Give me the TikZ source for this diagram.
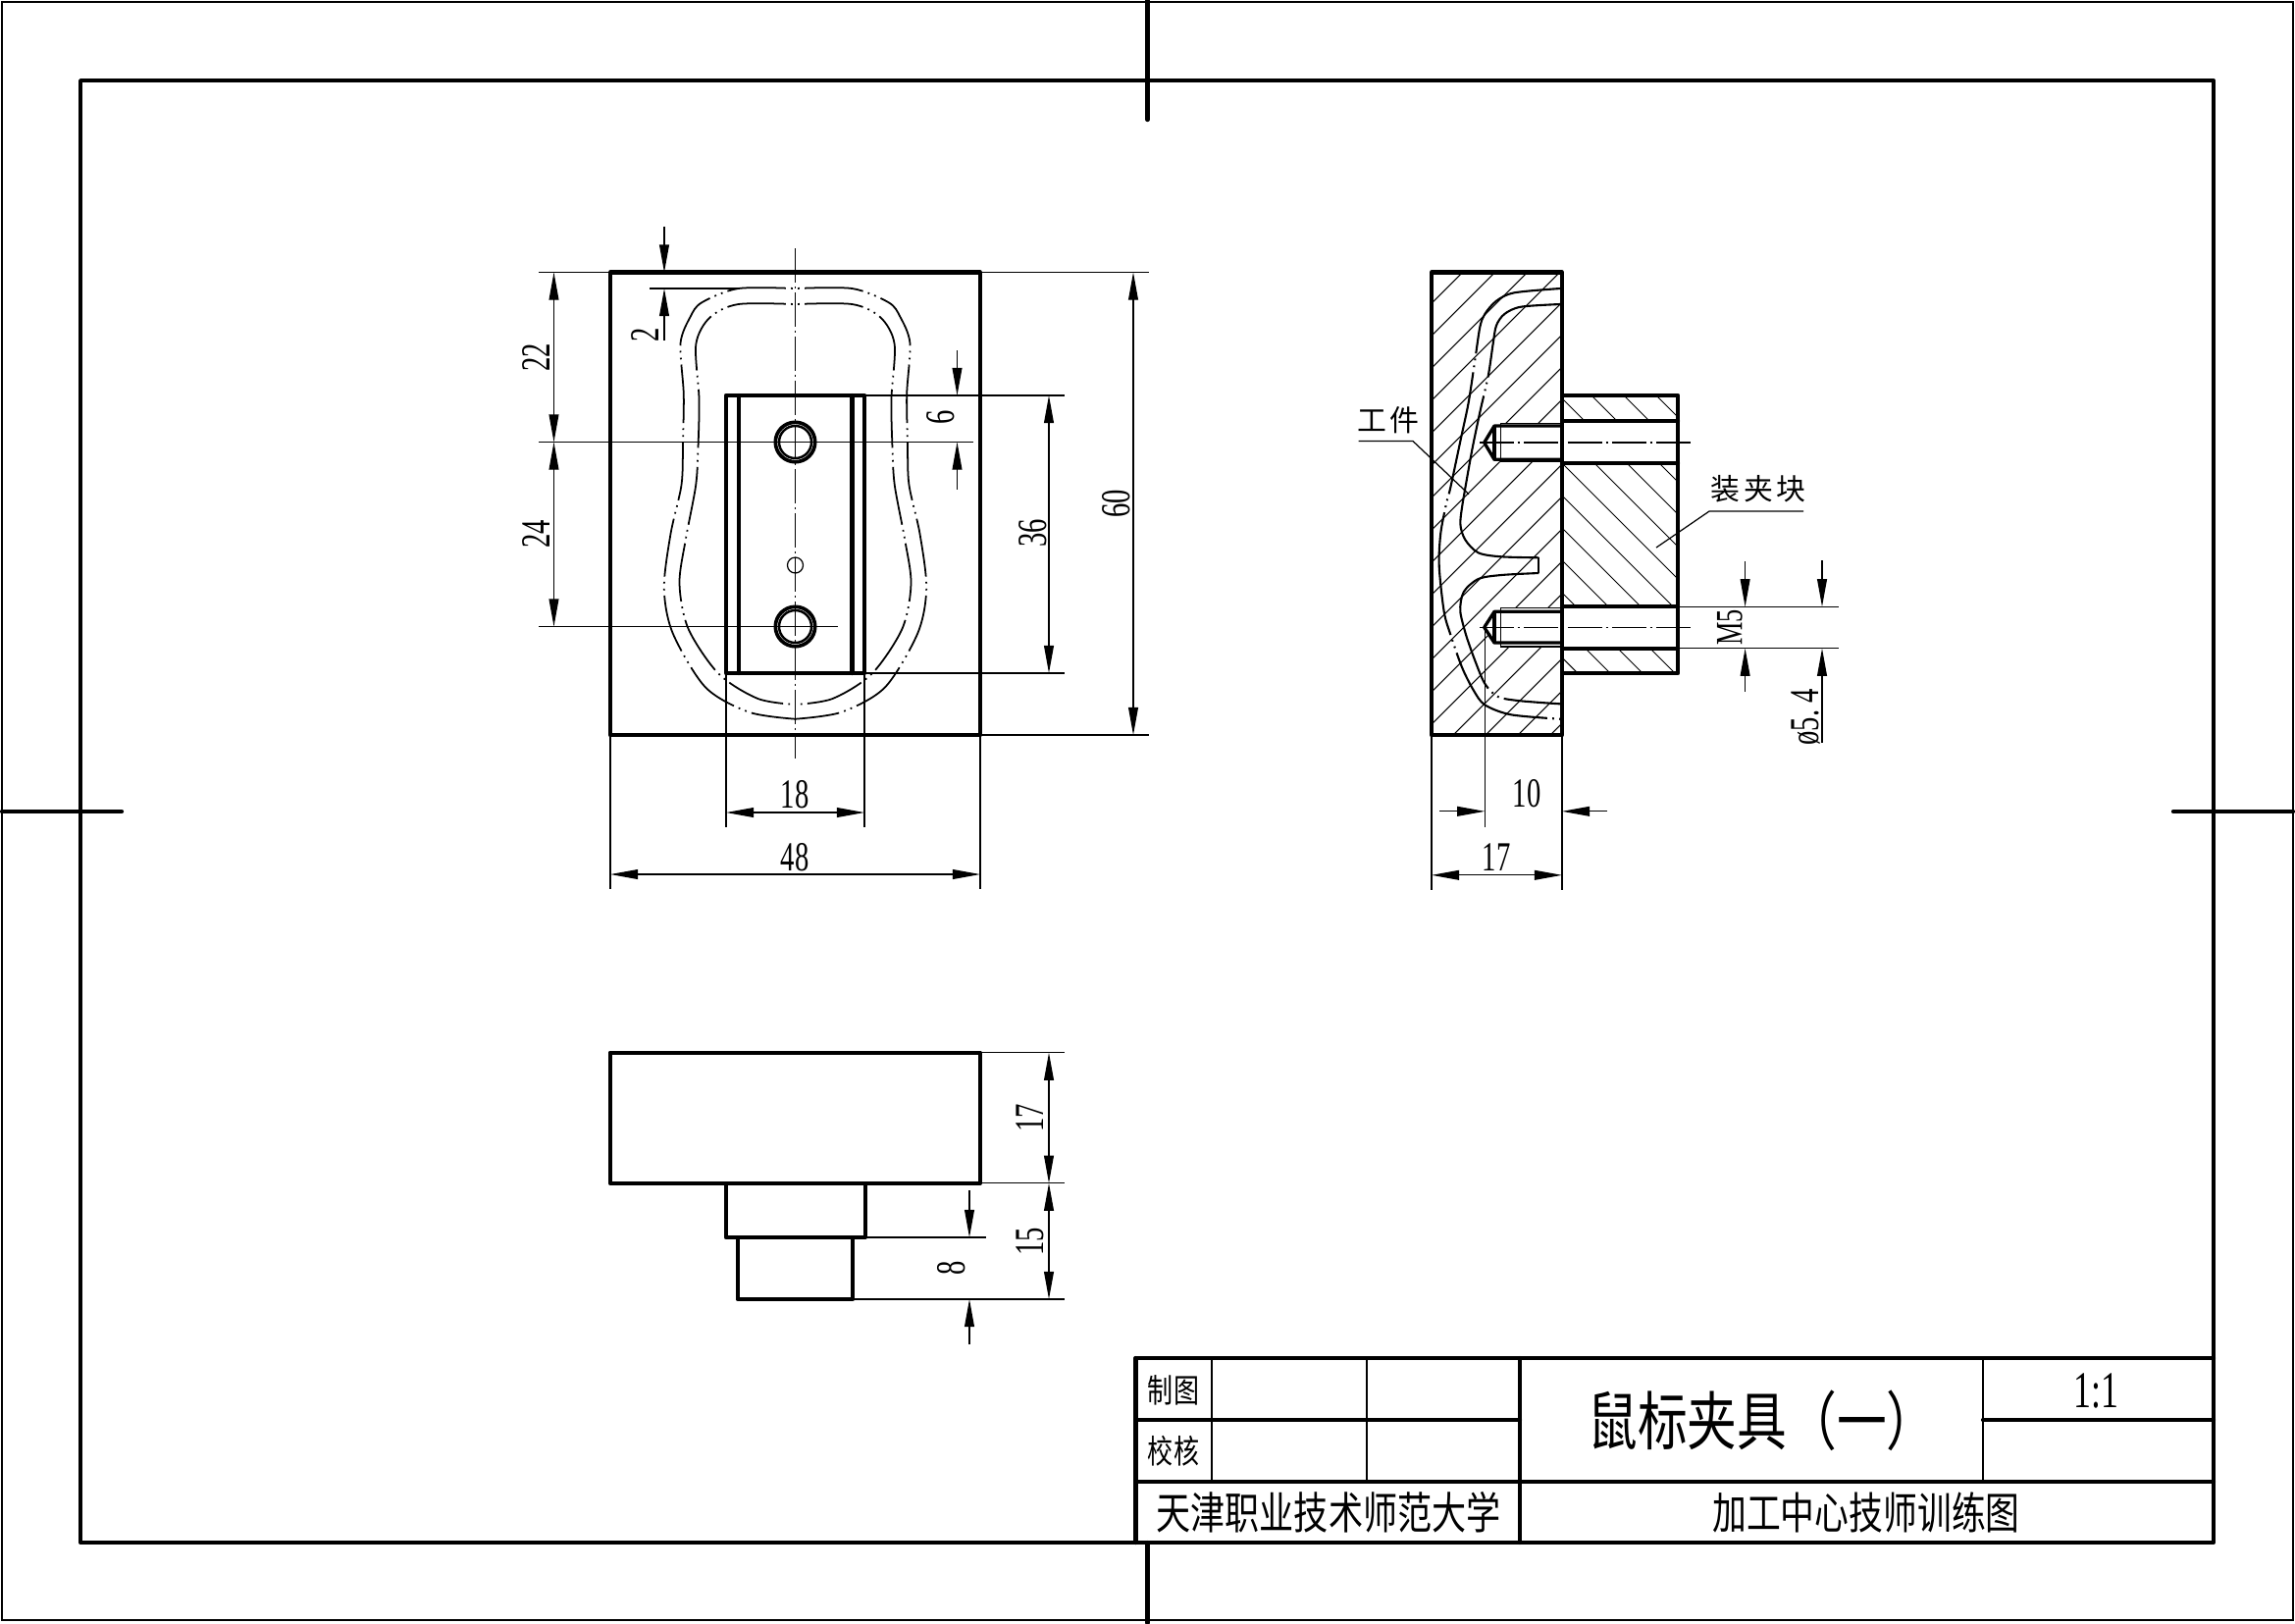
\documentclass[tikz,border=0pt]{standalone}
\usepackage{fontspec}
\usepackage{tikz}
\usetikzlibrary{arrows.meta}
\newfontfamily\dimfamily[FakeStretch=0.68]{Liberation Serif}
\newfontfamily\cjknarrow[FakeStretch=0.78]{Noto Sans CJK SC}
\newfontfamily\cjkplain[LetterSpace=12]{Noto Sans CJK SC}
\tikzset{
	frameline/.style={line width=1.1pt,line cap=round,line join=round},
	outline/.style={line width=1.2pt,line cap=round,line join=round},
	holeline/.style={line width=0.95pt,line join=round},
	thinline/.style={line width=0.35pt},
	hatchline/.style={line width=0.3pt},
	dimline/.style={line width=0.35pt,>={Triangle[length=8pt,width=2.8pt]}},
	centerline/.style={line width=0.35pt,dash pattern=on 10pt off 1pt on 0.8pt off 1pt},
	phantomline/.style={line width=0.5pt,dash pattern=on 17pt off 1.5pt on 0.5pt off 1.5pt on 0.5pt off 1.5pt,dash phase=19.75pt},
	workline/.style={line width=0.6pt},
	dimtext/.style={inner sep=0pt,font=\dimfamily\fontsize{12}{12}\selectfont},
	sidetext/.style={dimtext,rotate=90},
	leadertext/.style={inner sep=0pt,font=\cjkplain\fontsize{8.5}{9}\selectfont},
	tabletext/.style={inner sep=0pt,font=\cjknarrow\fontsize{9.5}{10}\selectfont}
}
% half of the workpiece outline in the front view, y absolute
\newcommand{\outerhalf}{(0,294) (58,294) (95.3,308.3) (107,323) (117,350) (113.7,401.6) (114.5,451) (115.9,493.6) (127,544) (133.7,599.4) (124.8,645.3) (91.4,700.5) (46.8,725.8) (0,732.7)}
\newcommand{\innerhalf}{(0,310) (58,310) (87,323.5) (101.2,351) (98,406) (98.8,451) (101.2,493.6) (111.5,548.8) (118,594.8) (109,640.7) (78,686.7) (38,712) (0,718)}
\begin{document}
\begin{tikzpicture}[x=0.1mm,y=-0.1mm]
	\useasboundingbox (0,0) rectangle (2339,1654);
	% sheet
	\draw[thinline] (2,2) rectangle (2337,1651);
	\draw[frameline] (82,82) rectangle (2256,1572);
	\draw[outline] (1169.5,0) -- (1169.5,122);
	\draw[outline] (1169.5,1572) -- (1169.5,1654);
	\draw[outline] (2,827) -- (124,827);
	\draw[outline] (2215,827) -- (2337,827);

	% front view
	\draw[outline] (622,277.5) rectangle (999,749);
	\draw[outline] (740,403) rectangle (881,686);
	\draw[outline] (752.6,403) -- (752.6,686);
	\draw[outline] (868.5,403) -- (868.5,686);
	\draw[line width=1.05pt] (810.5,450.5) circle (20.2);
	\draw[line width=0.7pt] (810.5,450.5) circle (16.5);
	\draw[line width=1.05pt] (810.5,638.5) circle (20.2);
	\draw[line width=0.7pt] (810.5,638.5) circle (16.5);
	\draw[thinline] (810.5,576) circle (8);
	\draw[centerline] (810.5,253) -- (810.5,773);
	\begin{scope}[xshift=81.05mm]
		\draw[phantomline] plot[smooth] coordinates {\outerhalf};
		\draw[phantomline] plot[smooth] coordinates {\innerhalf};
	\end{scope}
	\begin{scope}[xshift=81.05mm,xscale=-1]
		\draw[phantomline] plot[smooth] coordinates {\outerhalf};
		\draw[phantomline] plot[smooth] coordinates {\innerhalf};
	\end{scope}
	% front view dimensions
	\draw[thinline] (549,277.5) -- (622,277.5);
	\draw[thinline] (549,450.5) -- (992,450.5);
	\draw[thinline] (549,638.5) -- (854,638.5);
	\draw[thinline] (662,294) -- (752,294);
	\draw[thinline] (881,403) -- (1085,403);
	\draw[thinline] (881,686) -- (1085,686);
	\draw[thinline] (999,277.5) -- (1171,277.5);
	\draw[thinline] (999,749) -- (1171,749);
	\draw[thinline] (622,749) -- (622,905.5);
	\draw[thinline] (999,749) -- (999,905.5);
	\draw[thinline] (740,686) -- (740,843);
	\draw[thinline] (881,686) -- (881,843);
	\draw[dimline,<->] (564.5,277.5) -- (564.5,450.5);
	\draw[dimline,<->] (564.5,450.5) -- (564.5,638.5);
	\draw[dimline,->] (677,230.6) -- (677,277.5);
	\draw[dimline,->] (677,347) -- (677,294);
	\draw[dimline,->] (975.5,357) -- (975.5,403);
	\draw[dimline,->] (975.5,498.6) -- (975.5,450.5);
	\draw[dimline,<->] (1069,403) -- (1069,686);
	\draw[dimline,<->] (1155,277.5) -- (1155,749);
	\draw[dimline,<->] (740,828) -- (881,828);
	\draw[dimline,<->] (622,891) -- (999,891);
	\node[sidetext] (dimA) at (547,364) {22};
	\node[sidetext] (dimB) at (547,544.5) {24};
	\node[sidetext] (dimC) at (658,341) {2};
	\node[sidetext] (dimD) at (959,425) {6};
	\node[sidetext] (dimE) at (1053,543) {36};
	\node[sidetext] (dimF) at (1138,513) {60};
	\node[dimtext] (dimG) at (810,810) {18};
	\node[dimtext] (dimH) at (810,874) {48};

	% side view, section
	\begin{scope}
		\clip (1459,277.5) rectangle (1592,749);
		\foreach \c in {1735,1768,...,2350}
			\draw[hatchline] ({\c-200},200) -- ({\c-800},800);
	\end{scope}
	\begin{scope}
		\clip (1592,403) rectangle (1710,686);
		\foreach \c in {889,922,...,1300}
			\draw[hatchline] ({\c+300},300) -- ({\c+800},800);
	\end{scope}
	% holes
	\fill[white] (1592,429) rectangle (1710,472);
	\fill[white] (1592,618) rectangle (1710,660.7);
	\fill[white] (1592,431.3) -- (1523,431.3) -- (1523,434) -- (1512.7,451) -- (1523,468) -- (1523,470) -- (1592,470) -- cycle;
	\fill[white] (1592,619.3) -- (1523,619.3) -- (1523,623) -- (1512.7,639.3) -- (1523,655) -- (1523,659) -- (1592,659) -- cycle;
	\draw[thinline] (1592,431.3) -- (1529.3,431.3) -- (1529.3,470) -- (1592,470);
	\draw[thinline] (1592,619.3) -- (1529.3,619.3) -- (1529.3,659) -- (1592,659);
	\draw[holeline] (1592,434) -- (1523,434) -- (1512.7,451) -- (1523,468.3) -- (1592,468.3);
	\draw[holeline] (1523,434) -- (1523,468.3);
	\draw[holeline] (1592,623.3) -- (1523,623.3) -- (1512.7,639.3) -- (1523,655) -- (1592,655);
	\draw[holeline] (1523,623.3) -- (1523,655);
	\draw[centerline] (1508,451) -- (1726,451);
	\draw[centerline] (1508,639.3) -- (1726,639.3);
	% workpiece
	\draw[workline,dash pattern=on 36pt off 1.5pt on 0.5pt off 1.5pt on 0.5pt off 1.5pt] plot[smooth] coordinates {(1590,294) (1543.3,298.3) (1525,306.7) (1513.3,320) (1508.3,333.3) (1503.3,366.7) (1496.7,410) (1489.3,445) (1478.3,496.7) (1474,513.3) (1468.3,543.3) (1466.7,576.7) (1471.7,623.3) (1478.3,646.7) (1490,680) (1501.7,703.3) (1513.3,718.3) (1540,728.3) (1590,732.7)};
	\draw[workline,dash pattern=on 36pt off 1.5pt on 0.5pt off 1.5pt on 0.5pt off 1.5pt] plot[smooth] coordinates {(1590,310) (1550,312.7) (1533.3,320) (1525,331.7) (1521.7,350) (1516.7,383.3) (1508.3,420) (1500,460) (1491.7,506.7)};
	\draw[workline] plot[smooth] coordinates {(1491.7,506.7) (1488.3,533.3) (1493.3,550) (1506.7,563.3) (1530,567.3) (1568.3,568.3)};
	\draw[workline] (1568.3,568.3) -- (1568.3,584);
	\draw[workline] plot[smooth] coordinates {(1568.3,584) (1530,586) (1506.7,590) (1491.7,603.3) (1488.3,623.3) (1495,650)};
	\draw[workline,dash pattern=on 36pt off 1.5pt on 0.5pt off 1.5pt on 0.5pt off 1.5pt,dash phase=20pt] plot[smooth] coordinates {(1495,650) (1503.3,673.3) (1513.3,696.7) (1526.7,710) (1550,714.3) (1590,717.3)};
	% blocks
	\draw[outline] (1459,277.5) rectangle (1592,749);
	\draw[outline] (1592,403) rectangle (1710,686);
	\draw[outline] (1592,429.3) -- (1710,429.3);
	\draw[outline] (1592,472) -- (1710,472);
	\draw[outline] (1592,618.3) -- (1710,618.3);
	\draw[outline] (1592,660.7) -- (1710,660.7);
	% leaders
	\node[leadertext] (labelWork) at (1415,428) {工件};
	\node[leadertext] (labelBlock) at (1792,498) {装夹块};
	\coordinate (workA) at (1384.6,449.5);
	\coordinate (workB) at (1440,449.5);
	\coordinate (workC) at (1497,503.7);
	\coordinate (blockA) at (1838,521);
	\coordinate (blockB) at (1742,521);
	\coordinate (blockC) at (1688,558);
	\draw[thinline] (workA) -- (workB) -- (workC);
	\draw[thinline] (blockA) -- (blockB) -- (blockC);
	% side view dimensions
	\draw[thinline] (1710,618.3) -- (1874,618.3);
	\draw[thinline] (1710,660.7) -- (1874,660.7);
	\draw[thinline] (1459,749) -- (1459,907);
	\draw[thinline] (1592,749) -- (1592,907);
	\draw[thinline] (1513.3,641) -- (1513.3,843);
	\draw[dimline,->] (1778.6,572) -- (1778.6,618.3);
	\draw[dimline,->] (1778.6,705) -- (1778.6,660.7);
	\draw[dimline,->] (1857,571) -- (1857,618.3);
	\draw[dimline,->] (1857,757) -- (1857,660.7);
	\draw[dimline,->] (1467,826.8) -- (1513.3,826.8);
	\draw[dimline,->] (1638,826.8) -- (1592,826.8);
	\draw[dimline,<->] (1459,891.8) -- (1592,891.8);
	\node[sidetext] (dimJ) at (1763,639.4) {\fontsize{11}{11}\selectfont M5};
	\node[sidetext] (dimK) at (1840,731) {ø5.\,4};
	\node[dimtext] (dimL) at (1556,809) {10};
	\node[dimtext] (dimM) at (1525,874) {17};

	% bottom view
	\draw[outline] (621.7,1072.7) rectangle (999,1205.7);
	\draw[outline] (740,1205.7) rectangle (881.7,1261);
	\draw[outline] (751.7,1261) rectangle (869,1324);
	\draw[thinline] (999,1072.7) -- (1085,1072.7);
	\draw[thinline] (999,1205.7) -- (1085,1205.7);
	\draw[thinline] (881.7,1261) -- (1005,1261);
	\draw[thinline] (869,1324) -- (1085,1324);
	\draw[dimline,<->] (1069,1072.7) -- (1069,1205.7);
	\draw[dimline,<->] (1069,1205.7) -- (1069,1324);
	\draw[dimline,->] (988,1213) -- (988,1261);
	\draw[dimline,->] (988,1370) -- (988,1324);
	\node[sidetext] (dimN) at (1050,1139) {17};
	\node[sidetext] (dimP) at (1050,1265) {15};
	\node[sidetext] (dimQ) at (970,1292) {8};

	% title block
	\draw[outline] (1157.5,1384) -- (2256,1384);
	\draw[outline] (1157.5,1384) -- (1157.5,1572);
	\draw[outline] (1157.5,1510) -- (2256,1510);
	\draw[outline] (1157.5,1447) -- (1549,1447);
	\draw[outline] (2021,1447) -- (2256,1447);
	\draw[outline] (1549,1384) -- (1549,1572);
	\draw[thinline] (1235,1384) -- (1235,1510);
	\draw[thinline] (1393,1384) -- (1393,1510);
	\draw[thinline,line width=0.6pt] (2021,1384) -- (2021,1510);
	\node[tabletext] (tableDraw) at (1196,1417) {制图};
	\node[tabletext] (tableCheck) at (1196,1479) {校核};
	\node[inner sep=0pt,font=\cjknarrow\fontsize{18.5}{19}\selectfont] (tableTitle) at (1796,1448) {鼠标夹具（一）};
	\node[dimtext,font=\dimfamily\fontsize{15}{15}\selectfont] (tableScale) at (2136,1417) {1:1};
	\node[inner sep=0pt,font=\cjknarrow\fontsize{12.8}{14}\selectfont] (tableSchool) at (1354,1541) {天津职业技术师范大学};
	\node[inner sep=0pt,font=\cjknarrow\fontsize{12.7}{13}\selectfont] (tableCourse) at (1902,1541) {加工中心技师训练图};
\end{tikzpicture}
\end{document}
